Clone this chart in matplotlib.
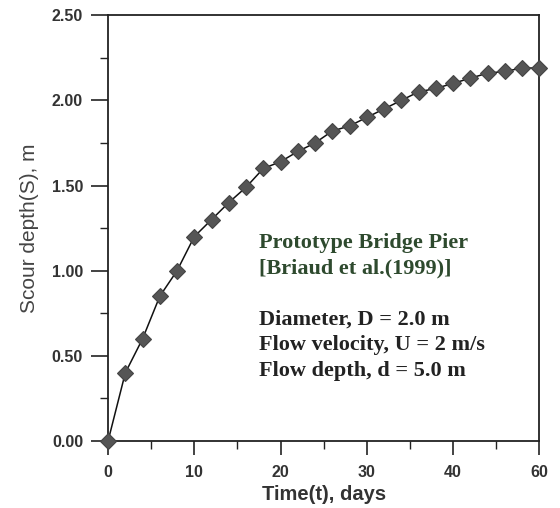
import numpy as np
import matplotlib
matplotlib.use("Agg")
import matplotlib.pyplot as plt
from matplotlib.ticker import MultipleLocator, FixedLocator

# scour depth growth, prototype pier
days = [0, 2, 4, 6, 8, 10, 12, 14, 16, 18, 20, 22, 24,
        26, 28, 30, 32, 34, 36, 38, 40, 42, 44, 46, 48, 50]
scour_m = [0.00, 0.40, 0.60, 0.85, 1.00, 1.20, 1.30, 1.40, 1.49, 1.60, 1.64, 1.70, 1.75,
           1.82, 1.85, 1.90, 1.95, 2.00, 2.05, 2.07, 2.10, 2.13, 2.16, 2.17, 2.19, 2.19]

x_ticks = [0, 10, 20, 30, 40, 50]
x_tick_labels = ["0", "10", "20", "30", "40", "60"]
y_ticks = [0.0, 0.5, 1.0, 1.5, 2.0, 2.5]
y_tick_labels = ["0.00", "0.50", "1.00", "1.50", "2.00", "2.50"]

notes_green = ["Prototype Bridge Pier", "[Briaud et al.(1999)]"]
notes_dark = ["Diameter, D = 2.0 m", "Flow velocity, U = 2 m/s", "Flow depth, d = 5.0 m"]

fig = plt.figure(figsize=(5.6, 5.08), dpi=100)
ax = fig.add_axes([0.193, 0.132, 0.770, 0.838])

ax.plot(days, scour_m, color="#111111", lw=1.1, marker="D", ms=8,
        mfc="#555555", mec="#444444", mew=0.8, zorder=3, clip_on=False)

ax.set_xlim(0, 50)
ax.set_ylim(0, 2.5)
ax.xaxis.set_major_locator(FixedLocator(x_ticks))
ax.set_xticklabels(x_tick_labels)
ax.xaxis.set_minor_locator(MultipleLocator(5))
ax.yaxis.set_major_locator(FixedLocator(y_ticks))
ax.set_yticklabels(y_tick_labels)
ax.yaxis.set_minor_locator(MultipleLocator(0.25))

ax.tick_params(which="major", direction="out", length=12, width=1.2, color="#222222",
               labelsize=11.5, labelcolor="#333333", pad=6)
ax.tick_params(axis="x", which="major", length=10, pad=7)
ax.tick_params(which="minor", direction="out", length=6, width=1.0, color="#222222")
for lab in ax.get_xticklabels() + ax.get_yticklabels():
    lab.set_fontweight("bold")
    lab.set_family("Liberation Sans")

for sp in ax.spines.values():
    sp.set_linewidth(1.3)
    sp.set_color("#222222")

ax.set_xlabel("Time(t), days", fontsize=14.5, fontweight="bold", family="Liberation Sans",
              color="#333333", labelpad=4)
ax.set_ylabel("Scour depth(S), m", fontsize=15, family="Liberation Sans",
              color="#444444", labelpad=9)

# annotation block
x0 = 17.5
green_y = [1.162, 1.015]
dark_y = [0.710, 0.563, 0.411]
for t, yy in zip(notes_green, green_y):
    ax.text(x0, yy, t, fontsize=16, fontweight="bold",
            family="Liberation Serif", color="#2e4a2e", va="center")
for t, yy in zip(notes_dark, dark_y):
    ax.text(x0, yy, t, fontsize=16, fontweight="bold",
            family="Liberation Serif", color="#222222", va="center")

fig.savefig("out.png", dpi=100)
